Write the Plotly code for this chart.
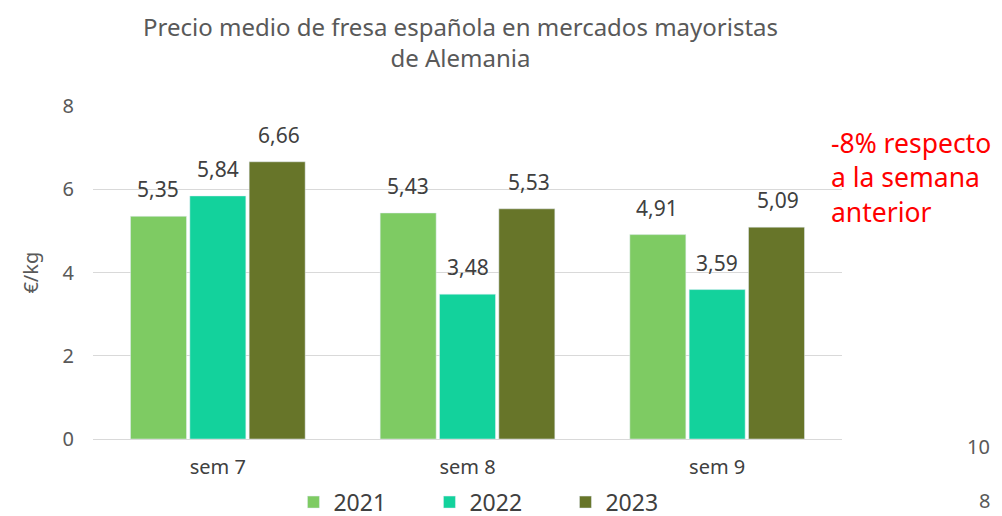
import plotly.graph_objects as go

categories = ["sem 7", "sem 8", "sem 9"]
years = ["2021", "2022", "2023"]
values_2021 = [5.35, 5.43, 4.91]
values_2022 = [5.84, 3.48, 3.59]
values_2023 = [6.66, 5.53, 5.09]
colors = ["#7ECB63", "#13D29C", "#677529"]
y_ticks = [0, 2, 4, 6, 8]

series = [values_2021, values_2022, values_2023]
label_shift = [-60, 0, 61]

fig = go.Figure()
for name, vals, col in zip(years, series, colors):
    fig.add_trace(go.Bar(x=categories, y=vals, name=name, marker_color=col))

for vals, dx in zip(series, label_shift):
    for c, v in zip(categories, vals):
        fig.add_annotation(x=c, y=v, xref="x", yref="y", text=f"{v:.2f}".replace(".", ","),
                           showarrow=False, xshift=dx, yshift=27, yanchor="middle",
                           font=dict(size=21, color="#404040"))

fig.update_layout(
    width=1002, height=516,
    paper_bgcolor="white", plot_bgcolor="white",
    font=dict(family="Noto Sans", color="#595959"),
    margin=dict(l=85, r=168, t=98, b=85, autoexpand=False),
    barmode="group", bargap=0.287, bargroupgap=0.056,
    xaxis=dict(showline=True, linecolor="#D9D9D9", linewidth=1, automargin=False,
               tickfont=dict(size=20, color="#404040"),
               ticks="outside", ticklen=10, tickcolor="rgba(0,0,0,0)"),
    yaxis=dict(range=[0, 8], tickvals=y_ticks, showgrid=True, gridcolor="#D9D9D9",
               zeroline=False, automargin=False, tickfont=dict(size=20, color="#595959"),
               ticks="outside", ticklen=14, tickcolor="rgba(0,0,0,0)"),
    legend=dict(orientation="h", x=0.54, xanchor="center", y=-0.125, yanchor="top",
                font=dict(size=23, color="#404040"), itemwidth=30, traceorder="normal",
                entrywidth=91, entrywidthmode="pixels"),
    showlegend=True,
)

fig.add_annotation(text="Precio medio de fresa española en mercados mayoristas<br>de Alemania",
                   xref="paper", yref="paper", x=0.491, y=1.192, xanchor="center", yanchor="middle",
                   showarrow=False, font=dict(size=24, color="#595959"))
fig.add_annotation(text="€/kg", xref="paper", yref="paper", x=-0.084, y=0.5, textangle=-90,
                   xanchor="center", yanchor="middle", showarrow=False,
                   font=dict(size=20, color="#595959"))
fig.add_annotation(text="-8% respecto<br>a la semana<br>anterior", xref="paper", yref="paper",
                   x=0.982, y=0.786, xanchor="left", yanchor="middle", showarrow=False, align="left",
                   font=dict(size=26.5, color="#FF0000"))
fig.add_annotation(text="10", xref="paper", yref="paper", x=1.0, y=0.0, xanchor="right",
                   yanchor="middle", xshift=150, yshift=-7, showarrow=False,
                   font=dict(size=20, color="#595959"))
fig.add_annotation(text="8", xref="paper", yref="paper", x=1.0, y=0.0, xanchor="right",
                   yanchor="middle", xshift=150, yshift=-61, showarrow=False,
                   font=dict(size=20, color="#595959"))

fig.write_html("out.html")
